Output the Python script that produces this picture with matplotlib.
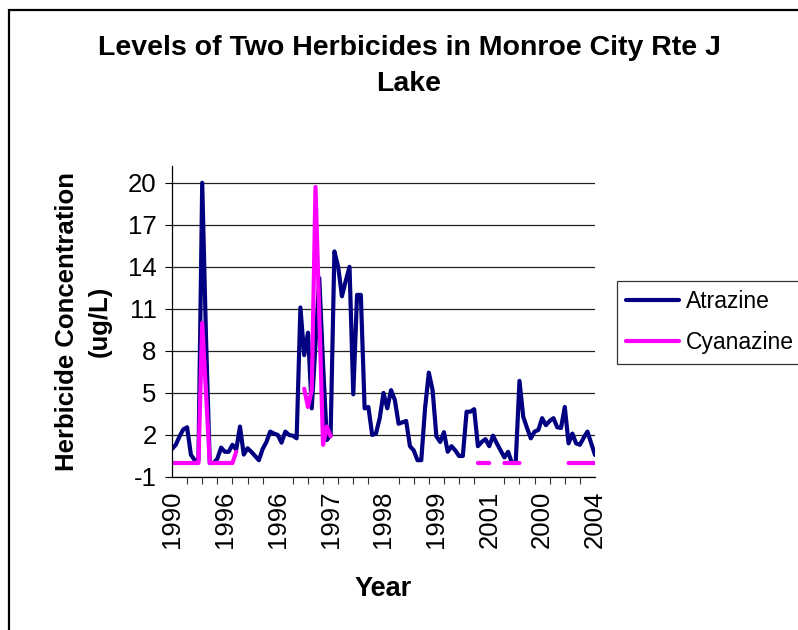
import matplotlib
matplotlib.use("Agg")
import matplotlib.pyplot as plt
from matplotlib.patches import Rectangle
import numpy as np

plt.rcParams['font.family'] = ['Liberation Sans', 'DejaVu Sans']
plt.rcParams['axes.unicode_minus'] = False

# category labels shown on the x axis (every 14th sample)
year_labels = ["1990", "1996", "1996", "1997", "1998", "1999", "2001", "2000", "2004"]
label_step = 14
tick_step = 4

# atrazine concentration per sample (ug/L)
atrazine = [
    1.0, 1.3, 1.9, 2.4, 2.55, 0.6, 0.2, 0.2, 20.0, 9.0,
    0.0, 0.0, 0.3, 1.1, 0.8, 0.8, 1.3, 0.95, 2.6, 0.6,
    1.05, 0.8, 0.5, 0.2, 1.0, 1.5, 2.24, 2.1, 2.0, 1.45,
    2.24, 2.0, 1.95, 1.76, 11.1, 7.7, 9.3, 3.9, 8.5, 13.2,
    7.0, 1.64, 2.0, 15.1, 14.0, 11.9, 13.0, 14.0, 4.9, 12.0,
    12.0, 3.9, 4.0, 2.0, 2.1, 3.2, 5.0, 3.9, 5.2, 4.5,
    2.8, 2.9, 3.0, 1.2, 0.9, 0.2, 0.2, 3.9, 6.45, 5.2,
    1.9, 1.5, 2.2, 0.8, 1.2, 0.9, 0.5, 0.5, 3.66, 3.66,
    3.84, 1.2, 1.5, 1.7, 1.2, 1.95, 1.4, 0.9, 0.4, 0.8,
    0.0, 0.0, 5.86, 3.3, 2.5, 1.76, 2.24, 2.36, 3.2, 2.7,
    3.0, 3.2, 2.55, 2.5, 4.0, 1.4, 2.1, 1.4, 1.3, 1.8,
    2.24, 1.4, 0.57,
]

# cyanazine, None where there is no sample
nan = None
cyanazine = (
    [0.0] * 8 + [10.0, 5.0] + [0.0] * 7 + [0.8]
    + [nan] * 17
    + [5.3, 4.0, 5.2, 19.7, 10.5, 1.3, 2.6, 1.9]
    + [nan] * 38
    + [0.0] * 4
    + [nan] * 3
    + [0.0] * 5
    + [nan] * 12
    + [0.0] * 8
)

atrazine = np.array(atrazine, dtype=float)
cyanazine = np.array([np.nan if v is None else v for v in cyanazine], dtype=float)
x = np.arange(len(atrazine))

fig = plt.figure(figsize=(7.98, 6.3), dpi=100)
ax = fig.add_axes([172 / 798, 153 / 630, 423 / 798, 311 / 630])

ax.plot(x, atrazine, color="#000080", lw=3.0, label="Atrazine",
        solid_joinstyle="round", solid_capstyle="round")
ax.plot(x[:len(cyanazine)], cyanazine, color="#FF00FF", lw=3.0, label="Cyanazine",
        solid_joinstyle="round", solid_capstyle="round")

ax.set_xlim(0, len(atrazine) - 1)
ax.set_ylim(-1, 21.2)
ax.set_yticks(np.arange(-1, 21, 3))
ax.yaxis.grid(True, color="#222222", lw=0.9)
ax.set_axisbelow(True)

ax.set_xticks(np.arange(0, len(atrazine), label_step))
ax.set_xticklabels(year_labels, rotation=90)
ax.set_xticks(np.arange(0, len(atrazine), tick_step), minor=True)
ax.tick_params(axis="x", which="major", length=0, pad=10, labelsize=18.5)
ax.tick_params(axis="x", which="minor", length=5, width=0.8, color="#333333")
ax.tick_params(axis="y", length=5, width=0.8, labelsize=18.5, pad=6)

for s in ["top", "right"]:
    ax.spines[s].set_visible(False)
ax.spines["left"].set_linewidth(0.9)
ax.spines["bottom"].set_linewidth(0.9)

ax.set_xlabel("Year", fontsize=19.5, fontweight="bold", labelpad=20)
ax.set_ylabel("Herbicide Concentration\n(ug/L)", fontsize=18.5, fontweight="bold",
              labelpad=12, linespacing=1.45)

fig.text(409 / 798, 1 - 35 / 630, "Levels of Two Herbicides in Monroe City Rte J\nLake",
         ha="center", va="top", fontsize=20.5, fontweight="bold", linespacing=1.5)

leg = ax.legend(loc="upper left", bbox_to_anchor=(617 / 798, 1 - 281 / 630),
                bbox_transform=fig.transFigure, frameon=True, fancybox=False,
                fontsize=16.5, handlelength=2.3, handletextpad=0.3,
                labelspacing=0.8, borderpad=0.4, borderaxespad=0)
leg.get_frame().set_edgecolor("black")
leg.get_frame().set_linewidth(0.9)

fig.add_artist(Rectangle((9 / 798, -0.1), 1.2, 1.1 - 10 / 630, transform=fig.transFigure,
                         fill=False, lw=1.6, edgecolor="black", clip_on=False))

fig.savefig("out.png", dpi=100)
